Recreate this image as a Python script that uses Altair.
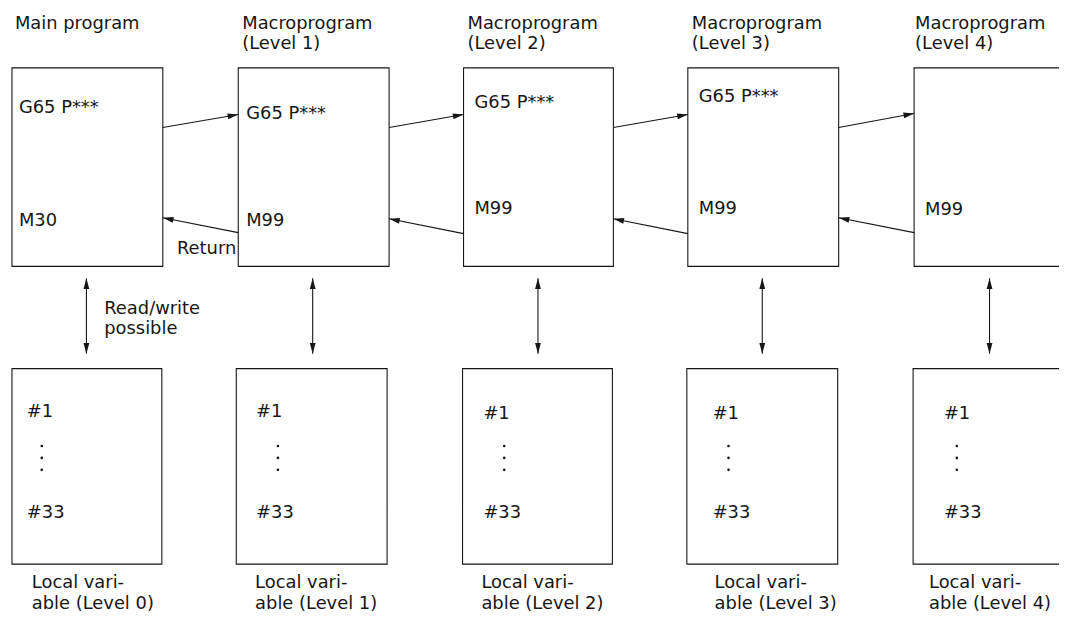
import math
import altair as alt
import pandas as pd

# ---------------- data (image pixel coordinates) ----------------
# program boxes (top row)
prog_x1 = [12, 240, 467, 693, 921]
prog_x2 = [164, 392, 618, 845, 1090]
prog_y1 = [66, 66, 66, 66, 66]
prog_y2 = [266, 266, 266, 266, 266]

# local-variable boxes (bottom row)
var_x1 = [12, 238, 466, 692, 920]
var_x2 = [163, 390, 617, 844, 1090]
var_y1 = [369, 369, 369, 369, 369]
var_y2 = [566, 566, 566, 566, 566]

# titles above program boxes
title_line1 = ["Main program", "Macroprogram", "Macroprogram", "Macroprogram", "Macroprogram"]
title_line2 = ["", "(Level 1)", "(Level 2)", "(Level 3)", "(Level 4)"]
title_x = [15, 244, 471, 697, 922]
title_y1 = [27, 27, 27, 27, 27]
title_y2 = [47, 47, 47, 47, 47]

# call statements
call_text = ["G65 P***", "G65 P***", "G65 P***", "G65 P***"]
call_x = [19, 248, 478, 704]
call_y = [111, 118, 106, 100]

# end statements
end_text = ["M30", "M99", "M99", "M99", "M99"]
end_x = [19, 248, 478, 704, 932]
end_y = [225, 225, 213, 213, 214]

# call arrows (forward) and return arrows
call_from_x = [164, 392, 618, 845]
call_from_y = [126, 126, 126, 126]
call_to_x = [240, 467, 693, 921]
call_to_y = [113, 113, 113, 112]

ret_from_x = [240, 467, 693, 921]
ret_from_y = [232, 233, 233, 232]
ret_to_x = [164, 392, 618, 845]
ret_to_y = [217, 218, 218, 217]

# read/write double arrows
rw_x = [87, 315, 542, 768, 997]
rw_top = [278, 278, 278, 278, 278]
rw_bottom = [354, 354, 354, 354, 354]

# local variable contents
var_first = ["#1", "#1", "#1", "#1", "#1"]
var_last = ["#33", "#33", "#33", "#33", "#33"]
var_text_x = [27, 258, 487, 718, 951]
var_first_y = [418, 418, 420, 420, 420]
var_last_y = [520, 520, 520, 520, 520]
dots_x = [42, 280, 508, 734, 964]
dots_y = [447, 459, 471]

# captions below variable boxes
cap_line1 = ["Local vari-"] * 5
cap_line2 = ["able (Level 0)", "able (Level 1)", "able (Level 2)", "able (Level 3)", "able (Level 4)"]
cap_x = [32, 257, 485, 720, 936]
cap_y1 = [590, 590, 590, 590, 590]
cap_y2 = [611, 611, 611, 611, 611]

# free annotations
note_text = ["Return", "Read/write", "possible"]
note_x = [238, 105, 105]
note_y = [254, 314, 334]
note_align = ["right", "left", "left"]

# ---------------- build tables ----------------
W, H = 1059, 612
X0, Y0 = 8, 8
xs = alt.Scale(domain=[X0, X0 + W], nice=False, zero=False)
ys = alt.Scale(domain=[Y0, Y0 + H], nice=False, zero=False, reverse=True)
FONT = "DejaVu Sans"
INK = "#161616"

boxes = pd.DataFrame({
    "x": prog_x1 + var_x1, "x2": prog_x2 + var_x2,
    "y": prog_y1 + var_y1, "y2": prog_y2 + var_y2,
})

seg_rows = []
head_rows = []
def add_arrow(x1, y1, x2, y2, both=False):
    seg_rows.append({"x": x1, "y": y1, "x2": x2, "y2": y2})
    ang = math.degrees(math.atan2(x2 - x1, -(y2 - y1))) % 360
    head_rows.append({"x": x2, "y": y2, "angle": ang})
    if both:
        ang2 = math.degrees(math.atan2(x1 - x2, -(y1 - y2))) % 360
        head_rows.append({"x": x1, "y": y1, "angle": ang2})

for a, b, c, d in zip(call_from_x, call_from_y, call_to_x, call_to_y):
    add_arrow(a, b, c, d)
for a, b, c, d in zip(ret_from_x, ret_from_y, ret_to_x, ret_to_y):
    add_arrow(a, b, c, d)
for x, t, b in zip(rw_x, rw_top, rw_bottom):
    add_arrow(x, b, x, t, both=True)

segs = pd.DataFrame(seg_rows)
heads = pd.DataFrame(head_rows)

left_text = pd.DataFrame({
    "x": title_x + title_x + call_x + end_x + var_text_x + var_text_x + cap_x + cap_x,
    "y": title_y1 + title_y2 + call_y + end_y + var_first_y + var_last_y + cap_y1 + cap_y2,
    "t": title_line1 + title_line2 + call_text + end_text + var_first + var_last + cap_line1 + cap_line2,
})
notes = pd.DataFrame({"x": note_x, "y": note_y, "t": note_text, "a": note_align})

dots = pd.DataFrame(
    [{"x": dx, "y": dy} for dx in dots_x for dy in dots_y]
)

X = lambda f: alt.X(f, type="quantitative", scale=xs, axis=None)
Y = lambda f: alt.Y(f, type="quantitative", scale=ys, axis=None)

box_layer = alt.Chart(boxes).mark_rect(
    fill="white", fillOpacity=0, stroke=INK, strokeWidth=1.1, clip=True
).encode(x=X("x"), x2="x2", y=Y("y"), y2="y2")

seg_layer = alt.Chart(segs).mark_rule(color=INK, strokeWidth=1.1).encode(
    x=X("x"), y=Y("y"), x2="x2", y2="y2"
)

head_layer = alt.Chart(heads).mark_point(
    shape="M0,0L-0.3,1.1L0.3,1.1Z", filled=True, opacity=1, size=380, color=INK
).encode(x=X("x"), y=Y("y"), angle=alt.Angle("angle:Q", scale=None))

text_layer = alt.Chart(left_text).mark_text(
    align="left", baseline="alphabetic", font=FONT, fontSize=18, color=INK
).encode(x=X("x"), y=Y("y"), text="t:N")

note_left = alt.Chart(notes[notes.a == "left"]).mark_text(
    align="left", baseline="alphabetic", font=FONT, fontSize=18, color=INK
).encode(x=X("x"), y=Y("y"), text="t:N")
note_right = alt.Chart(notes[notes.a == "right"]).mark_text(
    align="right", baseline="alphabetic", font=FONT, fontSize=18, color=INK
).encode(x=X("x"), y=Y("y"), text="t:N")

dot_layer = alt.Chart(dots).mark_circle(size=7, color=INK, opacity=1).encode(
    x=X("x"), y=Y("y")
)

chart = alt.layer(
    box_layer, seg_layer, head_layer, text_layer, note_left, note_right, dot_layer
).properties(width=W, height=H, padding=0, background="white").configure_view(stroke=None)

chart.save("out.html", embed_options={"renderer": "svg", "actions": False})
